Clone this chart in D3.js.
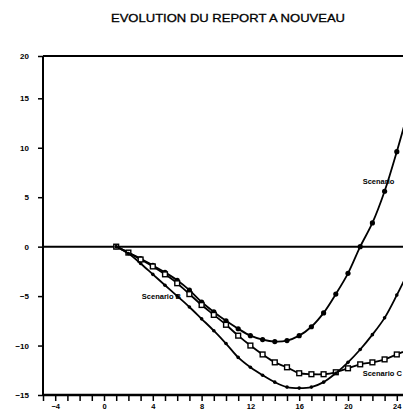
<!DOCTYPE html>
<html>
<head>
<meta charset="utf-8">
<script src="https://cdn.jsdelivr.net/npm/d3@7"></script>
<style>
  body { margin: 0; background: #fff; }
  svg text { font-family: "Liberation Sans", Arial, sans-serif; font-weight: bold; fill: #000; }
  .axis path, .axis line { stroke: #000; }
</style>
</head>
<body>
<script>
let periods = [1, 2, 3, 4, 5, 6, 7, 8, 9, 10, 11, 12, 13, 14, 15, 16, 17, 18, 19, 20, 21, 22, 23, 24, 25]

// upper curve, filled markers
let scenarioA = [0, -0.6, -1.2, -1.9, -2.6, -3.4, -4.4, -5.6, -6.6, -7.5, -8.3, -9.0, -9.4, -9.6, -9.5,
                 -9.0, -8.1, -6.7, -4.8, -2.7, 0.0, 2.4, 5.6, 9.6, 14.0]
// lower curve, small dots
let scenarioB = [0, -0.7, -1.7, -2.8, -3.9, -5.0, -6.1, -7.3, -8.5, -9.8, -11.2, -12.2, -13.0, -13.7, -14.2,
                 -14.3, -14.2, -13.7, -12.8, -11.7, -10.4, -8.9, -7.2, -4.9, -2.4]
// middle curve, open squares
let scenarioC = [0, -0.6, -1.3, -2.0, -2.8, -3.7, -4.8, -5.9, -6.9, -7.9, -9.0, -10.0, -10.9, -11.7, -12.2,
                 -12.8, -12.9, -12.9, -12.7, -12.3, -11.9, -11.7, -11.4, -10.9, -10.4]

let yTicks = [-15, -10, -5, 0, 5, 10, 15, 20]
let xLabels = [-4, 0, 4, 8, 12, 16, 20, 24]
let xMinor = [-5, -4, -3, -2, -1, 0, 1, 2, 3, 4, 5, 6, 7, 8, 9, 10, 11, 12, 13, 14, 15, 16, 17, 18, 19, 20, 21, 22, 23, 24, 25]

let labelNames = ['Scenario', 'Scenario B', 'Scenario C']
let labelX = [21.2, 3.1, 21.2]
let labelY = [6.3, -5.3, -13.1]

let width = 403, height = 414

let svg = d3.select('body').append('svg')
  .attr('width', width)
  .attr('height', height)

let x = d3.scaleLinear()
  .domain([-5, 25])
  .range([43, 409])

// plotter squeezed the top band a bit
let y = d3.scaleLinear()
  .domain([-15, 15, 20])
  .range([395, 98.3, 56])

let fmt = (d) => (d < 0 ? '\u2212' + Math.abs(d) : '' + d)

svg.append('text')
  .attr('x', 228)
  .attr('y', 22)
  .attr('text-anchor', 'middle')
  .attr('font-size', 11.5)
  .style('font-weight', 'normal')
  .attr('stroke', '#000')
  .attr('stroke-width', 0.3)
  .attr('textLength', 234)
  .attr('lengthAdjust', 'spacingAndGlyphs')
  .text('EVOLUTION DU REPORT A NOUVEAU')

let axis_y = svg.append('g')
  .attr('class', 'axis y')
  .attr('transform', 'translate(' + x(-5) + ',0)')
  .call(d3.axisLeft(y)
    .tickValues(yTicks)
    .tickSize(5)
    .tickPadding(9)
    .tickFormat(fmt))
axis_y.select('.domain').attr('stroke-width', 2).attr('d', 'M0,' + y(20) + 'V' + y(-15))
axis_y.selectAll('line').attr('stroke-width', 1.5)
axis_y.selectAll('text').attr('font-size', 8)

let axis_x = svg.append('g')
  .attr('class', 'axis x')
  .attr('transform', 'translate(0,' + y(-15) + ')')
  .call(d3.axisBottom(x)
    .tickValues(xMinor)
    .tickSize(6)
    .tickPadding(3)
    .tickFormat((d) => (xLabels.includes(d) ? fmt(d) : '')))
axis_x.select('.domain').attr('stroke-width', 2.5).attr('d', 'M' + x(-5) + ',0H' + x(25))
axis_x.selectAll('line').attr('stroke-width', 1.5)
axis_x.selectAll('text').attr('font-size', 7.5)
axis_x.selectAll('.tick')
  .filter((d) => d === 24)
  .select('text')
  .attr('text-anchor', 'end')
  .attr('dx', 4)

// top frame line and zero line
svg.append('line')
  .attr('x1', x(-5)).attr('x2', x(25))
  .attr('y1', y(20)).attr('y2', y(20))
  .attr('stroke', '#000').attr('stroke-width', 2)

svg.append('line')
  .attr('x1', x(-5)).attr('x2', x(25))
  .attr('y1', y(0)).attr('y2', y(0))
  .attr('stroke', '#000').attr('stroke-width', 2)

let line = d3.line()
  .x((d) => x(d[0]))
  .y((d) => y(d[1]))
  .curve(d3.curveCatmullRom)

let series = [
  { values: scenarioA, marker: 'dot', r: 2.6 },
  { values: scenarioC, marker: 'square', r: 2.4 },
  { values: scenarioB, marker: 'dot', r: 1.8 }
]

series.forEach((s) => {
  let pts = periods.map((p, i) => [p, s.values[i]])
  svg.append('path')
    .attr('d', line(pts))
    .attr('fill', 'none')
    .attr('stroke', '#000')
    .attr('stroke-width', 1.8)

  if (s.marker === 'dot') {
    svg.append('g').selectAll('circle')
      .data(pts)
     .enter().append('circle')
      .attr('cx', (d) => x(d[0]))
      .attr('cy', (d) => y(d[1]))
      .attr('r', s.r)
      .attr('fill', '#000')
  } else {
    svg.append('g').selectAll('rect')
      .data(pts)
     .enter().append('rect')
      .attr('x', (d) => x(d[0]) - s.r)
      .attr('y', (d) => y(d[1]) - s.r)
      .attr('width', s.r * 2)
      .attr('height', s.r * 2)
      .attr('fill', '#fff')
      .attr('stroke', '#000')
      .attr('stroke-width', 1.4)
  }
})

svg.append('g').selectAll('text')
  .data(labelNames)
 .enter().append('text')
  .attr('x', (d, i) => x(labelX[i]))
  .attr('y', (d, i) => y(labelY[i]))
  .attr('font-size', 7.5)
  .text((d) => d)
</script>
</body>
</html>
